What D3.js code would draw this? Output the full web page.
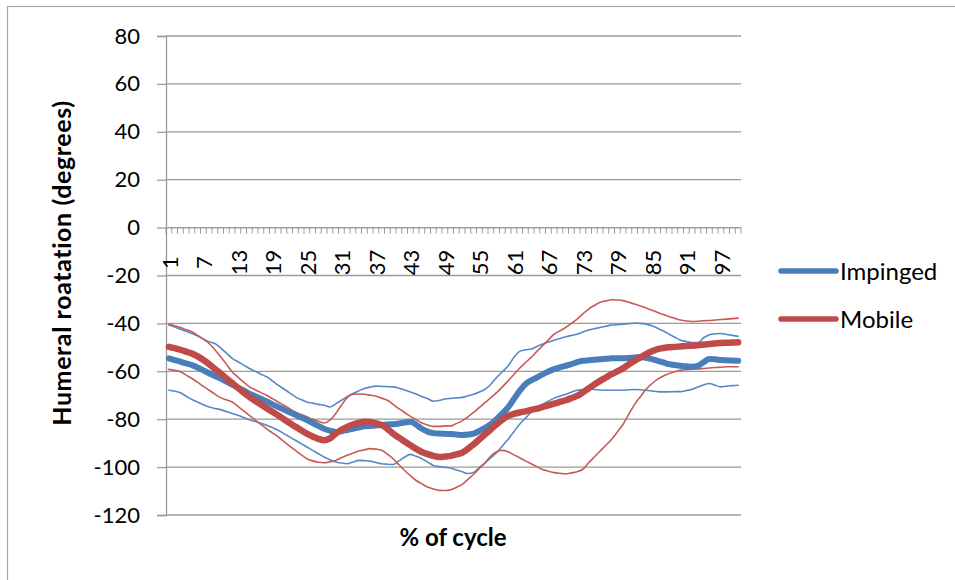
<!DOCTYPE html>
<html>
<head>
<meta charset="utf-8">
<script src="https://cdn.jsdelivr.net/npm/d3@7"></script>
<style>
  body { margin: 0; background: #fff; }
  text { font-family: Lato, "Open Sans", sans-serif; fill: #000; }
  .axis-title { font-weight: bold; }
</style>
</head>
<body>
<svg id="chart"></svg>
<script>
// % of cycle: 1..100
const cycle = d3.range(1, 101);
const yTicks = [80, 60, 40, 20, 0, -20, -40, -60, -80, -100, -120];

// Impinged group: mean and +/- SD bands (degrees)
const impinged = [
  -54.6, -55.3, -56.0, -56.7, -57.4, -58.4, -59.6, -60.8, -62.0, -63.0,
  -64.3, -65.6, -66.8, -68.0, -69.3, -70.4, -71.5, -72.6, -73.8, -74.9,
  -76.0, -77.1, -78.2, -79.3, -80.4, -81.6, -82.8, -84.0, -84.8, -85.3,
  -85.0, -84.5, -84.0, -83.5, -83.0, -82.8, -82.6, -82.4, -82.2, -82.1,
  -81.8, -81.4, -81.1, -82.3, -84.0, -85.2, -85.8, -86.0, -86.1, -86.2,
  -86.4, -86.6, -86.4, -86.0, -84.9, -83.6, -82.1, -80.0, -77.6, -75.1,
  -71.6, -68.2, -65.4, -63.8, -62.6, -61.3, -60.1, -59.1, -58.4, -57.7,
  -57.0, -56.2, -55.6, -55.4, -55.2, -55.0, -54.8, -54.6, -54.6, -54.6,
  -54.4, -54.2, -54.0, -54.4, -54.9, -55.6, -56.3, -57.0, -57.4, -57.7,
  -57.9, -58.1, -57.7, -56.2, -54.9, -55.0, -55.3, -55.4, -55.5, -55.6
];
const impingedUpper = [
  -40.7, -41.5, -42.4, -43.3, -44.2, -45.3, -46.5, -47.7, -48.4, -50.2,
  -52.4, -54.6, -56.0, -57.4, -58.8, -60.0, -61.2, -62.3, -64.0, -65.8,
  -67.4, -69.0, -70.7, -71.8, -72.8, -73.3, -73.8, -74.2, -74.9, -73.6,
  -72.1, -70.6, -69.3, -68.2, -67.2, -66.6, -66.2, -66.3, -66.4, -66.5,
  -67.1, -67.8, -68.6, -69.5, -70.5, -71.4, -72.5, -72.2, -71.6, -71.3,
  -71.1, -70.9, -70.2, -69.6, -68.6, -67.5, -65.4, -62.6, -60.2, -57.7,
  -54.2, -51.7, -51.0, -50.7, -49.6, -48.6, -47.8, -47.0, -46.3, -45.6,
  -45.0, -44.5, -43.6, -42.8, -42.2, -41.7, -41.2, -40.7, -40.5, -40.3,
  -40.1, -39.9, -40.0, -40.3, -41.0, -42.0, -43.2, -44.5, -45.8, -47.0,
  -47.6, -48.0, -48.0, -46.0, -44.7, -44.3, -44.2, -44.6, -45.0, -45.4
];
const impingedLower = [
  -67.9, -68.3, -69.0, -70.4, -71.8, -72.9, -74.0, -74.9, -75.5, -76.0,
  -76.8, -77.6, -78.4, -79.3, -80.2, -81.0, -81.7, -82.5, -83.5, -84.6,
  -86.0, -87.4, -88.8, -90.2, -91.6, -93.0, -94.4, -95.8, -96.9, -97.9,
  -98.3, -98.6, -97.9, -97.2, -97.3, -97.5, -98.1, -98.6, -98.8, -98.9,
  -97.4, -95.8, -94.7, -95.5, -96.5, -97.9, -99.3, -99.8, -100.1, -100.4,
  -101.2, -101.9, -102.7, -102.2, -100.2, -98.2, -96.1, -94.0, -91.2, -88.4,
  -85.2, -82.1, -79.6, -77.2, -75.5, -73.8, -72.5, -71.2, -70.4, -69.6,
  -68.7, -67.9, -67.7, -67.5, -67.6, -67.8, -67.9, -67.9, -67.9, -67.9,
  -67.7, -67.6, -67.7, -67.9, -68.2, -68.5, -68.6, -68.6, -68.5, -68.5,
  -68.0, -67.5, -66.6, -65.7, -65.1, -65.8, -66.5, -66.2, -66.0, -65.8
];

// Mobile group: mean and +/- SD bands (degrees)
const mobile = [
  -49.8, -50.3, -51.0, -51.8, -52.6, -53.8, -55.3, -57.0, -59.0, -60.9,
  -62.9, -64.9, -66.9, -68.8, -70.7, -72.3, -73.9, -75.4, -76.9, -78.4,
  -80.0, -81.6, -83.1, -84.6, -86.0, -87.2, -88.2, -88.8, -88.0, -86.0,
  -84.4, -83.2, -82.2, -81.5, -81.1, -81.2, -81.7, -82.5, -84.0, -86.0,
  -87.7, -89.3, -90.9, -92.4, -93.7, -94.6, -95.3, -95.8, -95.6, -95.3,
  -94.7, -94.0, -92.4, -90.5, -88.4, -86.3, -84.2, -82.1, -80.2, -78.6,
  -77.8, -77.2, -76.7, -76.1, -75.6, -74.9, -74.2, -73.5, -72.8, -72.1,
  -71.2, -70.3, -68.8, -67.1, -65.5, -64.0, -62.6, -61.2, -60.0, -58.7,
  -57.1, -55.6, -54.2, -52.8, -51.6, -50.7, -50.3, -50.0, -49.8, -49.6,
  -49.4, -49.3, -49.1, -48.8, -48.6, -48.4, -48.2, -48.1, -48.0, -47.9
];
const mobileUpper = [
  -40.4, -41.0, -41.7, -42.6, -43.5, -45.0, -46.6, -48.4, -51.0, -53.9,
  -57.0, -60.2, -62.4, -64.5, -66.5, -67.7, -68.9, -70.0, -71.4, -72.8,
  -74.2, -75.6, -77.0, -78.0, -79.0, -80.0, -80.9, -81.6, -80.4, -77.7,
  -74.2, -71.0, -69.6, -69.5, -69.6, -70.0, -70.4, -71.2, -72.1, -73.8,
  -75.6, -77.2, -78.8, -80.2, -81.6, -82.4, -83.0, -83.0, -82.8, -82.8,
  -81.8, -80.7, -79.0, -77.2, -75.1, -73.0, -71.0, -68.9, -66.5, -64.0,
  -61.3, -58.7, -56.4, -54.2, -51.7, -49.3, -46.9, -44.5, -43.1, -41.7,
  -40.0, -38.2, -36.0, -34.0, -32.5, -31.2, -30.6, -30.1, -30.2, -30.5,
  -31.2, -31.9, -32.7, -33.6, -34.5, -35.4, -36.3, -37.2, -37.9, -38.6,
  -39.0, -39.2, -39.1, -38.9, -38.8, -38.6, -38.4, -38.2, -38.0, -37.8
];
const mobileLower = [
  -59.2, -59.6, -60.2, -61.6, -63.0, -64.6, -66.3, -67.9, -69.5, -71.0,
  -71.9, -72.8, -74.6, -76.5, -78.4, -80.3, -82.2, -84.0, -85.7, -87.4,
  -89.3, -91.2, -93.0, -94.8, -96.5, -97.4, -98.0, -98.2, -97.8, -97.2,
  -96.1, -95.1, -94.2, -93.3, -92.8, -92.3, -92.5, -93.0, -94.6, -96.5,
  -99.0, -101.4, -103.6, -105.6, -107.0, -108.3, -109.1, -109.7, -109.8, -109.5,
  -108.5, -107.2, -105.1, -103.0, -100.6, -98.2, -95.4, -93.6, -93.0, -93.6,
  -94.9, -96.1, -97.4, -98.6, -99.8, -101.0, -101.7, -102.3, -102.6, -102.8,
  -102.4, -101.9, -100.9, -98.2, -95.8, -93.3, -90.9, -88.4, -85.3, -82.1,
  -77.9, -73.8, -70.6, -67.5, -65.2, -63.3, -62.0, -60.9, -60.2, -59.5,
  -59.3, -59.1, -59.0, -58.8, -58.6, -58.4, -58.3, -58.1, -58.1, -58.1
];

const blue = '#4a7ebb';
const red = '#be4b48';

// thin SD lines first, then the two means on top
const series = [
  { name: 'Impinged +SD', values: impingedUpper, color: '#5589c6', width: 1.6 },
  { name: 'Impinged -SD', values: impingedLower, color: '#5589c6', width: 1.6 },
  { name: 'Mobile +SD', values: mobileUpper, color: '#c85a56', width: 1.6 },
  { name: 'Mobile -SD', values: mobileLower, color: '#c85a56', width: 1.6 },
  { name: 'Impinged', values: impinged, color: blue, width: 6, legend: true },
  { name: 'Mobile', values: mobile, color: red, width: 6.5, legend: true }
];

const width = 955, height = 580;
const margin = { top: 36, right: 214, bottom: 65, left: 166 };
const innerW = width - margin.left - margin.right;
const innerH = height - margin.top - margin.bottom;

const svg = d3.select('#chart').attr('width', width).attr('height', height);

// outer chart frame (runs off the right and bottom edges)
svg.append('rect')
  .attr('x', 7.5).attr('y', 6.5)
  .attr('width', 980).attr('height', 620)
  .attr('fill', 'none').attr('stroke', '#a6a6a6').attr('stroke-width', 1.2);

const chart = svg.append('g').attr('transform', `translate(${margin.left},${margin.top})`);

const xScale = d3.scaleBand().domain(cycle).range([0, innerW]).padding(0);
const yScale = d3.scaleLinear().domain([-120, 80]).range([innerH, 0]);
const xPos = i => xScale(cycle[i]) + xScale.bandwidth() / 2;

// horizontal gridlines
chart.append('g')
  .selectAll('line')
  .data(yTicks)
  .join('line')
  .attr('x1', 0).attr('x2', innerW)
  .attr('y1', d => yScale(d)).attr('y2', d => yScale(d))
  .attr('stroke', '#9a9a9a').attr('stroke-width', 1.3);

// y axis (plain hyphen for negatives, as in the original)
const yAxisG = chart.append('g')
  .call(d3.axisLeft(yScale).tickValues(yTicks).tickSize(9).tickPadding(17).tickFormat(d => String(d)));
yAxisG.select('.domain').attr('stroke', '#9a9a9a').attr('stroke-width', 1.3);
yAxisG.selectAll('.tick line').attr('stroke', '#9a9a9a').attr('stroke-width', 1.3);
yAxisG.selectAll('.tick text')
  .style('font-size', '22px')
  .style('font-family', 'Lato, "Open Sans", sans-serif');

// category axis crossing at 0
const xAxisG = chart.append('g').attr('transform', `translate(0,${yScale(0)})`);
xAxisG.append('line')
  .attr('x1', 0).attr('x2', innerW)
  .attr('stroke', '#9a9a9a').attr('stroke-width', 1.3);
xAxisG.selectAll('.cat-tick')
  .data(d3.range(0, cycle.length + 1))
  .join('line')
  .attr('class', 'cat-tick')
  .attr('x1', i => i * xScale.step()).attr('x2', i => i * xScale.step())
  .attr('y1', 0).attr('y2', 6)
  .attr('stroke', '#9a9a9a').attr('stroke-width', 1);
xAxisG.selectAll('.cat-label')
  .data(cycle.filter(d => (d - 1) % 6 === 0))
  .join('text')
  .attr('class', 'cat-label')
  .attr('transform', d => `translate(${xScale(d) + xScale.bandwidth() / 2 + 1},35) rotate(-90)`)
  .attr('text-anchor', 'middle')
  .attr('dy', '0.36em')
  .style('font-size', '22px')
  .text(d => d);

// lines
const line = d3.line()
  .x((d, i) => xPos(i))
  .y(d => yScale(d))
  .curve(d3.curveMonotoneX);

chart.selectAll('.series')
  .data(series)
  .join('path')
  .attr('class', 'series')
  .attr('d', d => line(d.values))
  .attr('fill', 'none')
  .attr('stroke', d => d.color)
  .attr('stroke-width', d => d.width)
  .attr('stroke-linejoin', 'round')
  .attr('stroke-linecap', 'round');

// axis titles
svg.append('text')
  .attr('class', 'axis-title')
  .attr('transform', 'translate(62,263) rotate(-90)')
  .attr('text-anchor', 'middle')
  .attr('dy', '0.35em')
  .style('font-size', '25px')
  .style('letter-spacing', '0.6px')
  .text('Humeral roatation (degrees)');

svg.append('text')
  .attr('class', 'axis-title')
  .attr('x', 453).attr('y', 538)
  .attr('text-anchor', 'middle')
  .attr('dy', '0.35em')
  .style('font-size', '24px')
  .text('% of cycle');

// legend (means only)
const legend = svg.append('g').attr('transform', 'translate(781,271)');
const items = legend.selectAll('g')
  .data(series.filter(d => d.legend))
  .join('g')
  .attr('transform', (d, i) => `translate(0,${i * 48})`);
items.append('line')
  .attr('x1', 0).attr('x2', 55)
  .attr('stroke', d => d.color).attr('stroke-width', 5.5)
  .attr('stroke-linecap', 'round');
items.append('text')
  .attr('x', 59).attr('dy', '0.36em')
  .style('font-size', '24px')
  .text(d => d.name);
</script>
</body>
</html>
